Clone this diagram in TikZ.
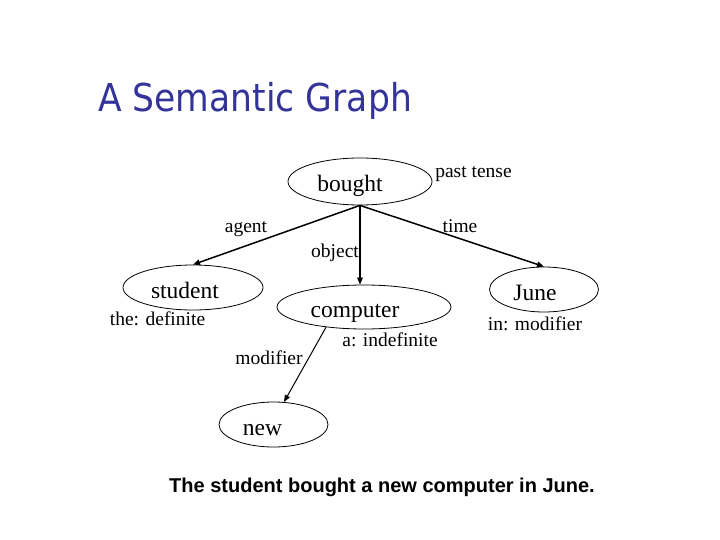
\documentclass[tikz,border=0pt]{standalone}
\usepackage{fontspec}
\setmainfont{Liberation Serif}
\newfontfamily\capfont{Liberation Sans}
\newfontfamily\titlefont[FakeStretch=0.9]{DejaVu Sans}
\usetikzlibrary{shapes.geometric,arrows.meta}
\definecolor{titleblue}{RGB}{51,51,153}
\begin{document}
\begin{tikzpicture}[x=1pt,y=-1pt,
  concept/.style={ellipse,draw,line width=0.8pt,inner sep=0pt,
    font=\fontsize{23.5}{28}\selectfont,text height=21pt,text depth=0pt},
  lab/.style={anchor=base,inner sep=0pt,font=\fontsize{19.5}{23}\selectfont},
  rel/.style={-{Triangle[length=7pt,width=5.5pt]},line width=1.5pt},
]
\useasboundingbox (0,0) rectangle (720,540);
\node[anchor=base west,inner sep=0pt,text=titleblue,
  font=\titlefont\fontsize{38.4}{44}\selectfont] (title) at (98,112) {A Semantic Graph};

\node[concept,minimum width=144pt,minimum height=47pt] (bought) at (360,181.5) {bought\kern20pt};
\node[concept,minimum width=140pt,minimum height=45pt] (student) at (193,287.5) {student\kern16pt};
\node[concept,minimum width=174pt,minimum height=44pt] (computer) at (364,307) {computer\kern18pt};
\node[concept,minimum width=109pt,minimum height=45pt] (june) at (544,289.5) {June\kern18pt};
\node[concept,minimum width=109pt,minimum height=45pt] (new) at (273.5,424.5) {new\kern22pt};

\draw[rel] (bought.south) -- (student.north);
\draw[rel] (bought.south) -- (bought.south |- computer.north);
\draw[rel] (bought.south) -- (june.north);
\draw[rel,line width=1pt] (computer.208) -- (new.65);

\node[lab] (pasttense) at (473.5,178) {past tense};
\node[lab] (agent) at (246,233) {agent};
\node[lab] (time) at (460,233) {time};
\node[lab] (object) at (335,257) {object};
\node[lab] (thedef) at (157.5,325) {the: definite};
\node[lab] (aindef) at (390,346) {a: indefinite};
\node[lab] (inmod) at (535,330) {in: modifier};
\node[lab] (modif) at (269,364) {modifier};

\node[anchor=base,inner sep=0pt,font=\capfont\bfseries\fontsize{20}{24}\selectfont] (caption)
  at (382,492) {The student bought a new computer in June.};
\end{tikzpicture}
\end{document}
